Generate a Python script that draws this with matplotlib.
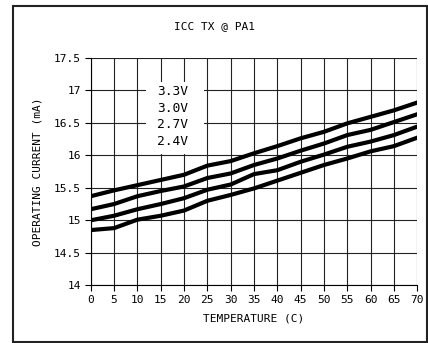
import matplotlib.pyplot as plt
from matplotlib.patches import Rectangle

# Datos
temps = [0, 5, 10, 15, 20, 25, 30, 35, 40, 45, 50, 55, 60, 65, 70]
i_33 = [15.37, 15.46, 15.54, 15.62, 15.70, 15.84, 15.91, 16.03, 16.14, 16.26, 16.36, 16.49, 16.59, 16.69, 16.81]
i_30 = [15.17, 15.25, 15.37, 15.45, 15.52, 15.65, 15.72, 15.85, 15.95, 16.07, 16.18, 16.31, 16.39, 16.51, 16.63]
i_27 = [15.00, 15.07, 15.17, 15.25, 15.34, 15.47, 15.55, 15.71, 15.77, 15.90, 16.01, 16.13, 16.21, 16.31, 16.44]
i_24 = [14.85, 14.88, 15.01, 15.07, 15.15, 15.30, 15.39, 15.49, 15.61, 15.73, 15.85, 15.95, 16.06, 16.14, 16.27]
labels = ['3.3V', '3.0V', '2.7V', '2.4V']
yticks = [14, 14.5, 15, 15.5, 16, 16.5, 17, 17.5]
ytick_labels = ['14', '14.5', '15', '15.5', '16', '16.5', '17', '17.5']

plt.rcParams['font.family'] = ['DejaVu Sans Mono']

fig = plt.figure(figsize=(4.28, 3.43), dpi=100)
ax = fig.add_axes([0.212, 0.168, 0.763, 0.664])

# Marco exterior
fig.patches.append(Rectangle((0.03, 0.003), 0.967, 0.979, transform=fig.transFigure,
                             fill=False, edgecolor='#222222', linewidth=1.5))

for serie in [i_33, i_30, i_27, i_24]:
    ax.plot(temps, serie, color='black', linewidth=3, zorder=3)

ax.set_xlim(0, 70)
ax.set_ylim(14, 17.5)
ax.set_xticks(temps)
ax.set_yticks(yticks)
ax.set_yticklabels(ytick_labels)
ax.tick_params(labelsize=8, length=4, width=0.8, color='black', pad=3)

ax.grid(True, color='#222222', linewidth=0.8)
ax.set_axisbelow(True)
for s in ['top', 'right']:
    ax.spines[s].set_visible(False)
for s in ['left', 'bottom']:
    ax.spines[s].set_linewidth(0.8)

ax.set_xlabel('TEMPERATURE (C)', fontsize=8, labelpad=6)
ax.set_ylabel('OPERATING CURRENT (mA)', fontsize=8, labelpad=8)
fig.text(0.5, 0.925, 'ICC TX @ PA1', fontsize=8, ha='center', va='center')

# Leyenda solo con texto, caja blanca
ax.add_patch(Rectangle((11.9, 16.02), 12.3, 1.1, facecolor='white', edgecolor='none', zorder=1.5))
for lab, yv in zip(labels, [16.975, 16.72, 16.465, 16.21]):
    ax.text(14.2, yv, lab, fontsize=9.3, va='center', ha='left', zorder=4)

fig.savefig('out.png', dpi=100)
